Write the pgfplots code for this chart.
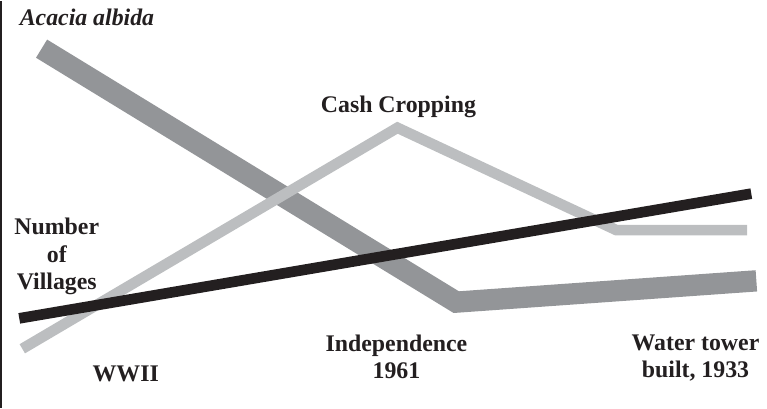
\documentclass[border=0pt]{standalone}
\usepackage{pgfplots}
\pgfplotsset{compat=1.18}
\usepackage{fontspec}
\setmainfont{Liberation Serif}
\definecolor{dgray}{HTML}{939598}
\definecolor{lgray}{HTML}{BCBEC0}
\definecolor{nblack}{HTML}{231F20}
\begin{document}
\begin{tikzpicture}[lbl/.style={font=\fontsize{23.5}{27}\selectfont\bfseries, align=center, text=nblack}]
\begin{axis}[
  scale only axis, width=767pt, height=401pt,
  xmin=0, xmax=767, ymin=0, ymax=401, y dir=reverse,
  axis lines=none, clip=false,
]
% left axis line
\addplot[nblack, line width=2pt] coordinates {(5,0) (5,401)};
% Acacia albida
\addplot[dgray, line width=21pt, line join=miter, line cap=butt] coordinates {(45,47) (454,297) (750,276)};
% Cash cropping
\addplot[lgray, line width=10.5pt, line join=miter, line cap=butt] coordinates {(26,343) (396,125) (612,226) (741,226)};
% Number of villages
\addplot[nblack, line width=10.5pt, line cap=butt] coordinates {(23,313) (745,190)};
\node[lbl, anchor=west] at (axis cs:20,16) {\itshape Acacia albida};
\node[lbl] at (axis cs:397,104) {Cash Cropping};
\node[lbl] at (axis cs:60,252) {Number\\of\\Villages};
\node[lbl] at (axis cs:128,368) {WWII};
\node[lbl] at (axis cs:395,351) {Independence\\1961};
\node[lbl] at (axis cs:690,352) {Water tower\\built, 1933};
\end{axis}
\end{tikzpicture}
\end{document}
